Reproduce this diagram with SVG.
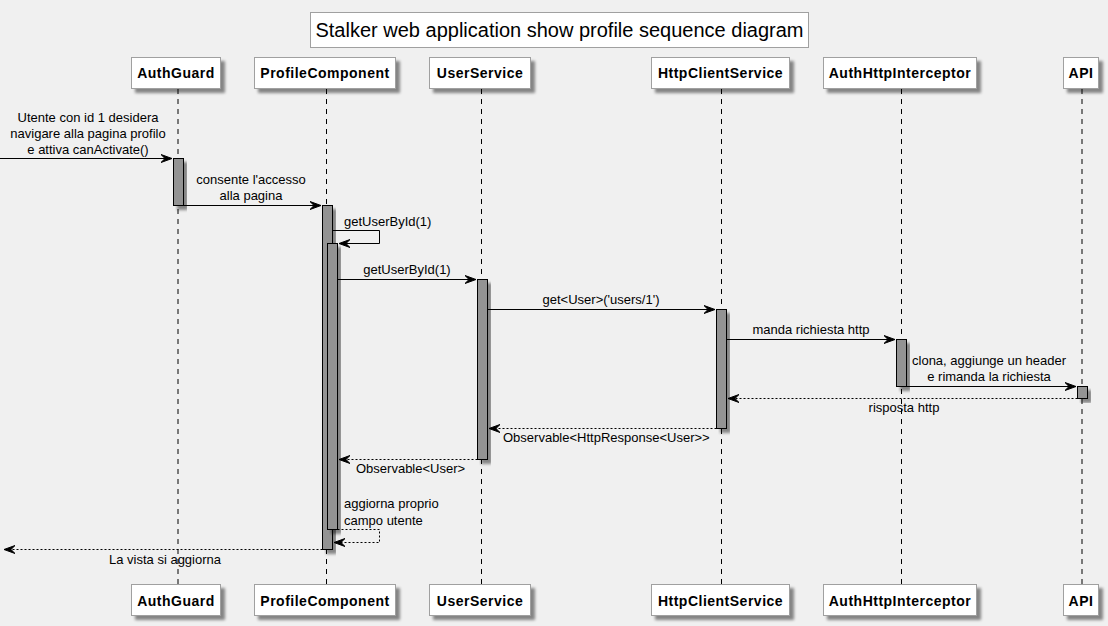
<svg xmlns="http://www.w3.org/2000/svg" width="1108" height="626" viewBox="0 0 1108 626">
<defs>
<filter id="sh" x="-20%" y="-20%" width="150%" height="150%">
<feGaussianBlur in="SourceAlpha" stdDeviation="1.5"/>
<feOffset dx="4" dy="4" result="o"/>
<feComponentTransfer><feFuncA type="linear" slope="0.45"/></feComponentTransfer>
<feMerge><feMergeNode/><feMergeNode in="SourceGraphic"/></feMerge>
</filter>
<marker id="ah" viewBox="0 0 12 10" refX="11" refY="5" markerWidth="12" markerHeight="10" markerUnits="userSpaceOnUse" orient="auto">
<path d="M0,1 L11,5 L0,9 L4,5 Z" fill="#000" stroke="#000" stroke-width="1"/>
</marker>
<style>
.pbox{fill:#fff;stroke:#a0a0a0;stroke-width:1;filter:url(#sh)}
.pname{font-family:"Liberation Sans",Arial,sans-serif;font-size:14px;font-weight:bold;letter-spacing:0.5px;text-anchor:middle;fill:#000}
.life{stroke:#000;stroke-width:1;stroke-dasharray:5,5}
.bar{fill:#939393;stroke:#000;stroke-width:1;filter:url(#sh)}
.msg{stroke:#000;stroke-width:1;fill:none;marker-end:url(#ah)}
.ret{stroke:#000;stroke-width:1;fill:none;stroke-dasharray:2,2;marker-end:url(#ah)}
.lbl{font-family:"Liberation Sans",Arial,sans-serif;font-size:13px;fill:#000}
.c{text-anchor:middle}
</style>
</defs>
<rect x="0" y="0" width="1108" height="626" fill="#f0f0f0"/>
<g id="title">
<rect x="310.5" y="12.5" width="498" height="35" fill="#fff" stroke="#a0a0a0"/>
<text x="559.5" y="37" font-family="'Liberation Sans',Arial,sans-serif" font-size="20" text-anchor="middle">Stalker web application show profile sequence diagram</text>
</g>
<g id="lifelines">
<line class="life" x1="178" y1="89" x2="178" y2="584"/>
<line class="life" x1="326.5" y1="89" x2="326.5" y2="584"/>
<line class="life" x1="481.5" y1="89" x2="481.5" y2="584"/>
<line class="life" x1="721.5" y1="89" x2="721.5" y2="584"/>
<line class="life" x1="901.5" y1="89" x2="901.5" y2="584"/>
<line class="life" x1="1082" y1="89" x2="1082" y2="584"/>
</g>
<g id="AuthGuard">
<rect class="pbox" x="131.5" y="57.5" width="89" height="31"/>
<text class="pname" x="176" y="78">AuthGuard</text>
<rect class="pbox" x="131.5" y="584.5" width="89" height="31"/>
<text class="pname" x="176" y="606">AuthGuard</text>
</g>
<g id="ProfileComponent">
<rect class="pbox" x="254.5" y="57.5" width="141" height="31"/>
<text class="pname" x="325" y="78">ProfileComponent</text>
<rect class="pbox" x="254.5" y="584.5" width="141" height="31"/>
<text class="pname" x="325" y="606">ProfileComponent</text>
</g>
<g id="UserService">
<rect class="pbox" x="429.5" y="57.5" width="101" height="31"/>
<text class="pname" x="480" y="78">UserService</text>
<rect class="pbox" x="429.5" y="584.5" width="101" height="31"/>
<text class="pname" x="480" y="606">UserService</text>
</g>
<g id="HttpClientService">
<rect class="pbox" x="651.5" y="57.5" width="138" height="31"/>
<text class="pname" x="720.5" y="78">HttpClientService</text>
<rect class="pbox" x="651.5" y="584.5" width="138" height="31"/>
<text class="pname" x="720.5" y="606">HttpClientService</text>
</g>
<g id="AuthHttpInterceptor">
<rect class="pbox" x="823.5" y="57.5" width="153" height="31"/>
<text class="pname" x="900" y="78">AuthHttpInterceptor</text>
<rect class="pbox" x="823.5" y="584.5" width="153" height="31"/>
<text class="pname" x="900" y="606">AuthHttpInterceptor</text>
</g>
<g id="API">
<rect class="pbox" x="1063.5" y="57.5" width="35" height="31"/>
<text class="pname" x="1081" y="78">API</text>
<rect class="pbox" x="1063.5" y="584.5" width="35" height="31"/>
<text class="pname" x="1081" y="606">API</text>
</g>
<g id="activations">
<rect class="bar" x="173.5" y="158.5" width="10" height="47"/>
<rect class="bar" x="322.5" y="205.5" width="10" height="344"/>
<rect class="bar" x="327.5" y="243.5" width="10" height="286"/>
<rect class="bar" x="477.5" y="279.5" width="10" height="180"/>
<rect class="bar" x="716.5" y="309.5" width="10" height="119"/>
<rect class="bar" x="896.5" y="339.5" width="10" height="47"/>
<rect class="bar" x="1077.5" y="386.5" width="10" height="12"/>
</g>
<g id="connectors">
<line class="msg" x1="0" y1="158.5" x2="172" y2="158.5"/>
<line class="msg" x1="183.5" y1="205.5" x2="321" y2="205.5"/>
<polyline class="msg" points="332.5,230.5 379.5,230.5 379.5,243.5 339,243.5"/>
<line class="msg" x1="337.5" y1="279.5" x2="476" y2="279.5"/>
<line class="msg" x1="487.5" y1="309.5" x2="715" y2="309.5"/>
<line class="msg" x1="726.5" y1="339.5" x2="895" y2="339.5"/>
<line class="msg" x1="906.5" y1="386.5" x2="1076" y2="386.5"/>
<line class="ret" x1="1077.5" y1="398.5" x2="728" y2="398.5"/>
<line class="ret" x1="716.5" y1="428.5" x2="489" y2="428.5"/>
<line class="ret" x1="477.5" y1="459.5" x2="339" y2="459.5"/>
<polyline class="ret" points="337.5,529.5 379.5,529.5 379.5,542.5 334,542.5"/>
<line class="ret" x1="322.5" y1="549.5" x2="4" y2="549.5"/>
</g>
<g id="labels">
<text class="lbl c" x="88" y="122">Utente con id 1 desidera</text>
<text class="lbl c" x="88" y="138">navigare alla pagina profilo</text>
<text class="lbl c" x="88" y="154">e attiva canActivate()</text>
<text class="lbl c" x="251" y="184">consente l'accesso</text>
<text class="lbl c" x="251" y="200">alla pagina</text>
<text class="lbl" x="344" y="226">getUserById(1)</text>
<text class="lbl c" x="407" y="274">getUserById(1)</text>
<text class="lbl c" x="601" y="304">get&lt;User&gt;('users/1')</text>
<text class="lbl c" x="811" y="334">manda richiesta http</text>
<text class="lbl c" x="989" y="365">clona, aggiunge un header</text>
<text class="lbl c" x="989" y="381">e rimanda la richiesta</text>
<text class="lbl c" x="904" y="412">risposta http</text>
<text class="lbl" x="503" y="442">Observable&lt;HttpResponse&lt;User&gt;&gt;</text>
<text class="lbl" x="356" y="473">Observable&lt;User&gt;</text>
<text class="lbl" x="344" y="508">aggiorna proprio</text>
<text class="lbl" x="344" y="525">campo utente</text>
<text class="lbl c" x="165" y="564">La vista si aggiorna</text>
</g>
</svg>
